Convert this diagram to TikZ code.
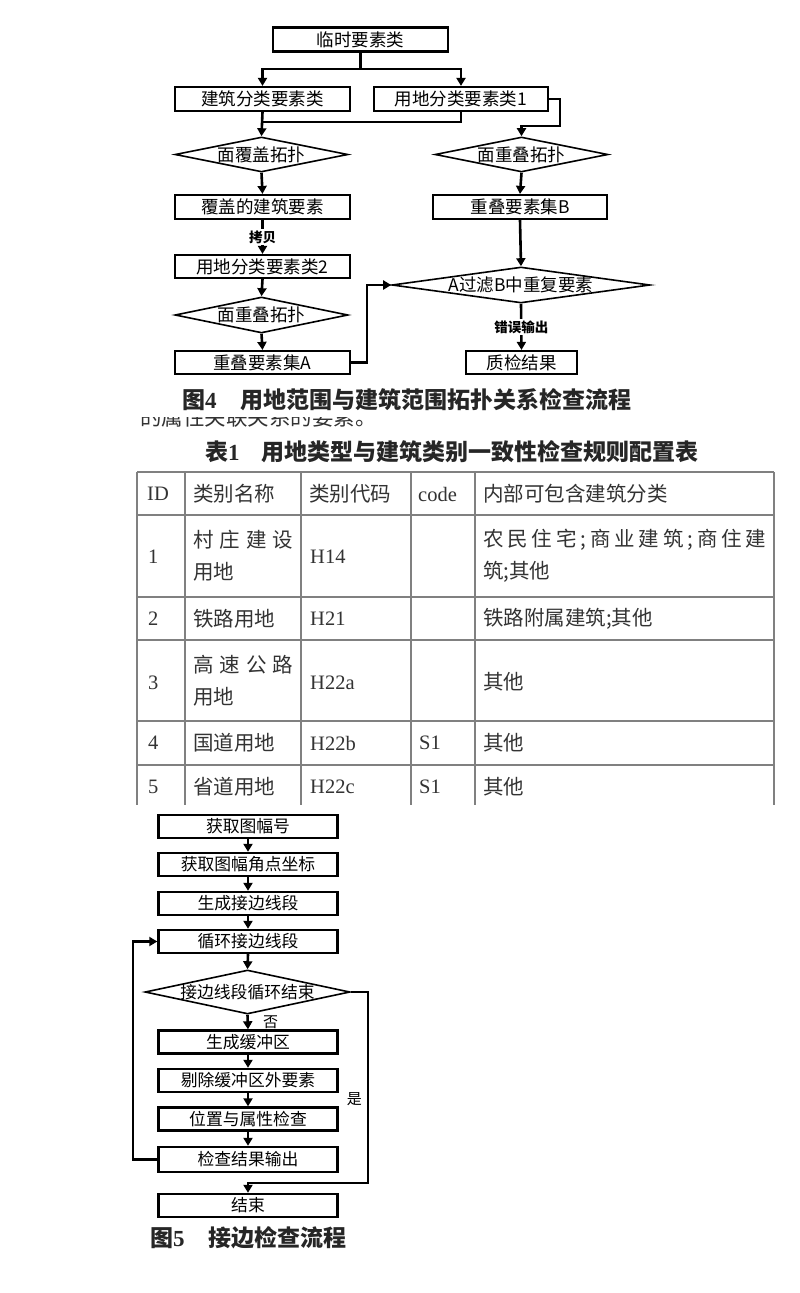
\documentclass[tikz,border=0pt]{standalone}
\usepackage{fontspec}
\setmainfont{Liberation Serif}
\newfontfamily\cjk{Noto Sans CJK SC}
\usetikzlibrary{shapes.geometric,arrows.meta,positioning,calc}

\begin{document}
\begin{tikzpicture}[
        x=1pt, y=-1pt,
        every node/.style={font=\cjk, inner sep=0pt},
        box/.style={rectangle, draw=black, line width=2.2pt, minimum width=175pt, minimum height=24pt, font=\cjk\fontsize{17.5}{20}\selectfont},
        decision/.style={diamond, draw=black, line width=1.6pt, minimum width=173pt, minimum height=35pt},
        stepbox/.style={rectangle, draw=black, line width=2.4pt, minimum width=179pt, minimum height=23pt, font=\cjk\fontsize{16.8}{19}\selectfont},
        arrow/.style={-{Triangle[length=8pt,width=9pt]}, line width=2.6pt, draw=black},
        link/.style={line width=2.6pt, draw=black},
        badge/.style={fill=white, font=\cjk\bfseries\fontsize{13.5}{15}\selectfont, inner sep=1.5pt},
        caption/.style={anchor=west, text=black!85, font=\bfseries\fontsize{23}{26}\selectfont},
        cell/.style={anchor=west, text=black!80, font=\fontsize{20.5}{24}\selectfont},
        zhcell/.style={cell, font=\cjk\fontsize{20.5}{24}\selectfont},
        rule/.style={draw=black!50, line width=1.3pt}
        ]

        % page size of the scan
        \fill[white] (0,0) rectangle (800,1293);
        \useasboundingbox (0,0) rectangle (800,1293);

        % Figure 4: boxes and tests
        \node[box] (tmp) at (360.5,39.5) {临时要素类};
        \node[box] (bld) at (262.5,99) {建筑分类要素类};
        \node[box, minimum width=174pt] (land1) at (461,99) {用地分类要素类1};
        \node[decision, label={[font=\cjk\fontsize{17.5}{20}\selectfont]center:面覆盖拓扑}] (cover) at (261.5,154.5) {};
        \node[decision, label={[font=\cjk\fontsize{17.5}{20}\selectfont]center:面重叠拓扑}] (overR) at (521.5,154.5) {};
        \node[box] (covered) at (262.5,207) {覆盖的建筑要素};
        \node[box, minimum width=174pt] (setB) at (520,207) {重叠要素集B};
        \node[box, minimum height=23pt] (land2) at (262.5,266.5) {用地分类要素类2};
        \node[decision, minimum height=36pt, label={[font=\cjk\fontsize{17.5}{20}\selectfont]center:面重叠拓扑}] (overL) at (261.5,315) {};
        \node[box, minimum height=23pt] (setA) at (262.5,362.5) {重叠要素集A};
        \node[decision, minimum width=258pt, minimum height=36pt, label={[font=\cjk\fontsize{17.5}{20}\selectfont]center:A过滤B中重复要素}] (filter) at (521,285) {};
        \node[box, minimum width=111pt, minimum height=23pt] (result) at (521.5,362.5) {质检结果};

        % Figure 4: bends
        \coordinate (split) at (360.5,69);
        \coordinate (merge) at (262.5,122);
        \coordinate (turn) at (560,126);
        \coordinate (bendA) at (367,362.5);

        % Figure 4: connections
        \draw[link] (tmp.south) -- (split);
        \draw[arrow] (split) -| (bld.north);
        \draw[arrow] (split) -| (land1.north);
        \draw[arrow] (bld.south) -- (cover.north);
        \draw[link] (land1.south) |- (merge);
        \draw[arrow] (land1.east) -| (turn) -| (overR.north);
        \draw[arrow] (cover.south) -- (covered.north);
        \draw[arrow] (covered.south) -- node[badge] {拷贝} (land2.north);
        \draw[arrow] (land2.south) -- (overL.north);
        \draw[arrow] (overL.south) -- (setA.north);
        \draw[arrow] (setA.east) -- (bendA) |- (filter.west);
        \draw[arrow] (overR.south) -- (setB.north);
        \draw[arrow] (setB.south) -- (filter.north);
        \draw[arrow] (filter.south) -- node[badge] {错误输出} (result.north);

        \node[caption] (cap4) at (182,400) {{\cjk 图}4\hspace{24pt}{\cjk 用地范围与建筑范围拓扑关系检查流程}};

        % running text cut by the page crop
        \begin{scope}
            \clip (130,417) rectangle (420,432);
            \node[anchor=base west, text=black!80, font=\cjk\fontsize{21.5}{24}\selectfont] (cut) at (140,425.5) {\smash{的属性关联关系的要素。}};
        \end{scope}

        % Table 1
        \node[caption] (tab1) at (205,452) {{\cjk 表}1\hspace{22pt}{\cjk 用地类型与建筑类别一致性检查规则配置表}};

        \draw[rule] (137,472) -- (774,472) (137,515) -- (774,515) (137,597) -- (774,597)
                    (137,640) -- (774,640) (137,721) -- (774,721) (137,765) -- (774,765);
        \draw[rule] (137,472) -- (137,805) (185,472) -- (185,805) (301,472) -- (301,805)
                    (411,472) -- (411,805) (475,472) -- (475,805) (774,472) -- (774,805);

        \node[cell] (hid) at (147,494) {ID};
        \node[zhcell] (hname) at (193,494) {类别名称};
        \node[zhcell] (hcode) at (309,494) {类别代码};
        \node[cell] (hen) at (418,494) {code};
        \node[zhcell] (hsub) at (483,494) {内部可包含建筑分类};

        \node[cell] (id1) at (148,557) {1};
        \node[zhcell] (name1a) at (193,540) {\makebox[100pt][s]{村\hfill 庄\hfill 建\hfill 设}};
        \node[zhcell] (name1b) at (193,572) {用地};
        \node[cell] (code1) at (310,557) {H14};
        \node[zhcell] (sub1a) at (483,540) {\makebox[283pt][s]{农\hfill 民\hfill 住\hfill 宅\hfill ;\hfill 商\hfill 业\hfill 建\hfill 筑\hfill ;\hfill 商\hfill 住\hfill 建}};
        \node[zhcell] (sub1b) at (483,572) {筑;其他};

        \node[cell] (id2) at (148,619) {2};
        \node[zhcell] (name2) at (193,619) {铁路用地};
        \node[cell] (code2) at (310,619) {H21};
        \node[zhcell] (sub2) at (483,619) {铁路附属建筑;其他};

        \node[cell] (id3) at (148,683) {3};
        \node[zhcell] (name3a) at (193,665) {\makebox[100pt][s]{高\hfill 速\hfill 公\hfill 路}};
        \node[zhcell] (name3b) at (193,697) {用地};
        \node[cell] (code3) at (310,683) {H22a};
        \node[zhcell] (sub3) at (483,682) {其他};

        \node[cell] (id4) at (148,743) {4};
        \node[zhcell] (name4) at (193,743) {国道用地};
        \node[cell] (code4) at (310,743) {H22b};
        \node[cell] (en4) at (419,743) {S1};
        \node[zhcell] (sub4) at (483,743) {其他};

        \node[cell] (id5) at (148,787) {5};
        \node[zhcell] (name5) at (193,787) {省道用地};
        \node[cell] (code5) at (310,787) {H22c};
        \node[cell] (en5) at (419,787) {S1};
        \node[zhcell] (sub5) at (483,787) {其他};

        % Figure 5: steps
        \node[stepbox] (sheet) at (248,826.5) {获取图幅号};
        \node[stepbox] (corner) at (248,864.5) {获取图幅角点坐标};
        \node[stepbox] (gen) at (248,903.5) {生成接边线段};
        \node[stepbox] (loop) at (248,941.5) {循环接边线段};
        \node[decision, minimum width=205pt, minimum height=44pt, label={[font=\cjk\fontsize{16.8}{19}\selectfont]center:接边线段循环结束}] (done) at (247.5,992) {};
        \node[stepbox] (buf) at (248,1042) {生成缓冲区};
        \node[stepbox] (clean) at (248,1080.5) {剔除缓冲区外要素};
        \node[stepbox] (check) at (248,1119) {位置与属性检查};
        \node[stepbox, minimum height=25pt] (out) at (248,1159.5) {检查结果输出};
        \node[stepbox] (fin) at (248,1205.5) {结束};

        \coordinate (back) at (133,1159.5);
        \coordinate (yesR) at (368,1183);

        % Figure 5: connections
        \draw[arrow] (sheet.south) -- (corner.north);
        \draw[arrow] (corner.south) -- (gen.north);
        \draw[arrow] (gen.south) -- (loop.north);
        \draw[arrow] (loop.south) -- (done.north);
        \draw[arrow] (done.south) -- node[anchor=west, xshift=14pt, font=\cjk\fontsize{15}{17}\selectfont] {否} (buf.north);
        \draw[arrow] (buf.south) -- (clean.north);
        \draw[arrow] (clean.south) -- (check.north);
        \draw[arrow] (check.south) -- (out.north);
        \draw[arrow, line width=2.2pt] (out.west) -- (back) |- (loop.west);
        \draw[arrow, line width=2.2pt] (done.east) -| node[pos=0.78, anchor=east, xshift=-5pt, font=\cjk\fontsize{15}{17}\selectfont] {是} (yesR) -| (fin.north);

        \node[caption] (cap5) at (150,1238) {{\cjk 图}5\hspace{24pt}{\cjk 接边检查流程}};

    \end{tikzpicture}
\end{document}
